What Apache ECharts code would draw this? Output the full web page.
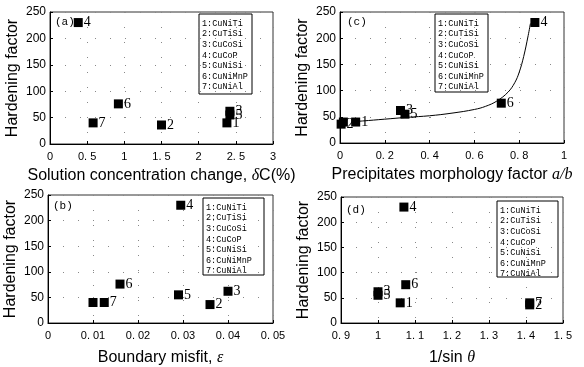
<!DOCTYPE html><html><head><meta charset="utf-8">
<script src="https://cdn.jsdelivr.net/npm/echarts@6/dist/echarts.min.js"></script>
<style>html,body{margin:0;padding:0;background:#fff}#c{width:584px;height:367px}</style></head>
<body><div id="c"></div><script>
const alloys = ['CuNiTi','CuTiSi','CuCoSi','CuCoP','CuNiSi','CuNiMnP','CuNiAl'];
const ids = ['1','2','3','4','5','6','7'];
const hardening = [40, 36, 62, 230, 55, 76, 40];
const concChange = [2.38, 1.5, 2.42, 0.38, 2.42, 0.92, 0.58];
const morphFactor = [0.07, 0.005, 0.27, 0.87, 0.29, 0.72, 0.015];
const misfit = [0.010, 0.036, 0.040, 0.0295, 0.029, 0.016, 0.0125];
const invSin = [1.06, 1.41, 1.0, 1.07, 1.0, 1.075, 1.41];
const aLabels = ['1','2','3','4','5','6','7'];
const cLabels = ['1','2','3','4','5','6',''];
const bLabels = ['','2','3','4','5','6','7'];
const dLabels = ['1','2','3','4','5','6','7'];
const curveX = [0.065, 0.1, 0.2, 0.3, 0.4, 0.5, 0.6, 0.65, 0.7, 0.75, 0.78, 0.8, 0.82, 0.84, 0.85];
const curveY = [41, 42, 45.5, 49, 52, 57, 64, 70, 80, 97, 115, 135, 165, 205, 228];
const yTicks = {min: 0, max: 250, interval: 50};

const chart = echarts.init(document.getElementById('c'), null, {renderer: 'canvas'});
const fmt = v => String(+(+v).toFixed(3)).replace('.', '. ');
const grids = [
  {left: 50, top: 12, width: 223, height: 132},
  {left: 340, top: 12, width: 224, height: 131},
  {left: 48, top: 195, width: 225, height: 128},
  {left: 341, top: 197, width: 222, height: 127}
].map(g => Object.assign(g, {show: true, borderColor: '#333', borderWidth: 1, backgroundColor: 'transparent'}));

const axisCommon = {
  axisLine: {show: true, lineStyle: {color: '#000', width: 1}},
  axisTick: {show: true, inside: true, length: 3, lineStyle: {color: '#000'}},
  splitLine: {show: true, lineStyle: {color: '#888', type: [1, 14], width: 1}},
};
const nameRich = {i: {fontStyle: 'italic', fontFamily: 'Liberation Serif', fontSize: 16, color: '#000'}};
function xAx(gi, min, max, interval, name, gap) {
  return Object.assign({}, axisCommon, {
    gridIndex: gi, type: 'value', min, max, interval,
    name, nameLocation: 'middle', nameGap: gap,
    nameTextStyle: {fontFamily: 'Liberation Sans', fontSize: 16, color: '#000', rich: nameRich},
    axisLabel: {fontFamily: 'Liberation Sans', fontSize: 11, color: '#000', margin: 7, formatter: fmt}
  });
}
function yAx(gi) {
  return Object.assign({}, axisCommon, yTicks, {
    gridIndex: gi, type: 'value',
    name: 'Hardening factor', nameLocation: 'middle', nameGap: 29,
    nameTextStyle: {fontFamily: 'Liberation Sans', fontSize: 16, color: '#000'},
    axisLabel: {fontFamily: 'Liberation Sans', fontSize: 12, color: '#000', margin: 4}
  });
}
function pts(xs, labels) {
  return xs.map((x, i) => ({value: [x, hardening[i]], lab: labels[i]}));
}
function sc(i, xs, labels) {
  return {
    type: 'scatter', xAxisIndex: i, yAxisIndex: i, symbol: 'rect', symbolSize: 9,
    itemStyle: {color: '#000', opacity: 1}, z: 3,
    label: {show: true, position: 'right', distance: 1, fontFamily: 'Liberation Serif', fontSize: 14, color: '#000',
      formatter: p => p.data.lab},
    data: pts(xs, labels)
  };
}
function legendBox(x, y, w, h) {
  const children = [{type: 'rect', shape: {x: 0, y: 0, width: w, height: h}, style: {fill: '#fff', stroke: '#000', lineWidth: 1}}];
  alloys.forEach((a, i) => children.push({type: 'text', x: 3, y: 5 + i * 10.6,
    style: {text: ids[i] + ':' + a, fontFamily: 'Liberation Mono', fontSize: 8.5, fill: '#000'}}));
  return {type: 'group', x, y, children, z: 10};
}
function panelLabel(x, y, t) {
  return {type: 'text', x, y, style: {text: t, fontFamily: 'Liberation Mono', fontSize: 11, fill: '#000'}, z: 10};
}

chart.setOption({
  animation: false,
  backgroundColor: '#fff',
  grid: grids,
  xAxis: [
    xAx(0, 0, 3, 0.5, 'Solution concentration change, {i|δ}C(%)', 24),
    xAx(1, 0, 1, 0.2, 'Precipitates morphology factor {i|a/b}', 24),
    xAx(2, 0, 0.05, 0.01, 'Boundary misfit, {i|ε}', 27),
    xAx(3, 0.9, 1.5, 0.1, '1/sin {i|θ}', 27)
  ],
  yAxis: [yAx(0), yAx(1), yAx(2), yAx(3)],
  series: [
    sc(0, concChange, aLabels),
    sc(1, morphFactor, cLabels),
    sc(2, misfit, bLabels),
    sc(3, invSin, dLabels),
    {type: 'line', xAxisIndex: 1, yAxisIndex: 1, smooth: 0.4, showSymbol: false, symbol: 'none',
      lineStyle: {color: '#000', width: 1}, z: 2,
      data: curveX.map((x, i) => [x, curveY[i]])}
  ],
  graphic: [
    legendBox(199, 14, 53, 80), legendBox(435, 14, 53, 78),
    legendBox(203, 198, 61, 77), legendBox(497, 201, 61, 76),
    panelLabel(55, 17, '(a)'), panelLabel(347, 17, '(c)'),
    panelLabel(53, 201, '(b)'), panelLabel(346, 205, '(d)')
  ]
});
</script></body></html>
